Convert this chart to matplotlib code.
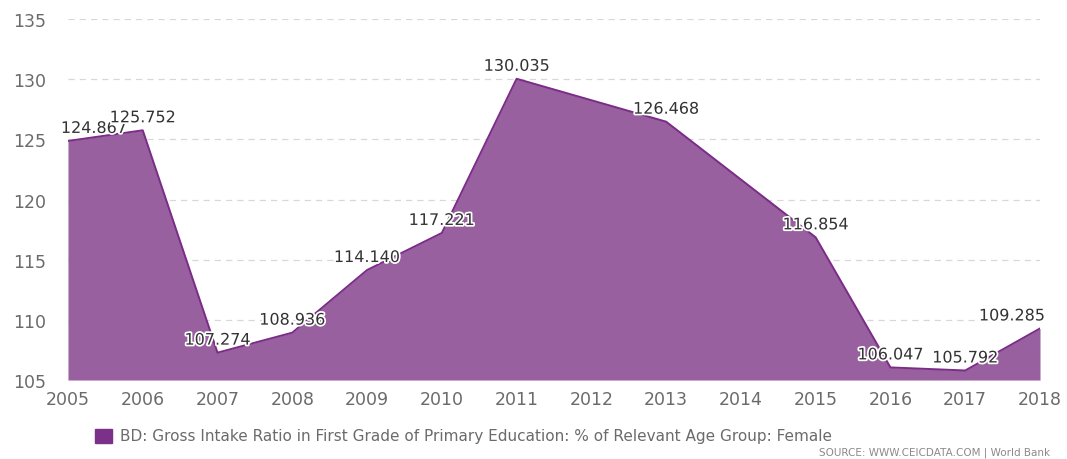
import matplotlib
matplotlib.use("Agg")
import matplotlib.pyplot as plt
from matplotlib.patches import Rectangle
import matplotlib.patheffects as pe

# data (2012 and 2014 have no value, the line just joins across them)
years = [2005, 2006, 2007, 2008, 2009, 2010, 2011, 2013, 2015, 2016, 2017, 2018]
values = [124.867, 125.752, 107.274, 108.936, 114.140, 117.221, 130.035,
          126.468, 116.854, 106.047, 105.792, 109.285]
xticks = list(range(2005, 2019))
yticks = [105, 110, 115, 120, 125, 130, 135]

FILL = "#98609f"
LINE = "#7a2c86"
GREY = "#6b6b6b"

fig = plt.figure(figsize=(10.67, 4.6), dpi=100)
ax = fig.add_axes([0.0637, 0.1717, 0.911, 0.7848])

ax.fill_between(years, values, 105, color=FILL, lw=0, zorder=2)
ax.plot(years, values, color=LINE, lw=1.4, zorder=3)

ax.set_xlim(2005, 2018)
ax.set_ylim(105, 135)
ax.set_xticks(xticks)
ax.set_yticks(yticks)
ax.tick_params(axis="both", length=0, labelsize=12.5, colors=GREY)
ax.tick_params(axis="x", pad=7)
ax.tick_params(axis="y", pad=16)
ax.grid(axis="y", color="#d8d8d8", ls=(0, (5, 4)), lw=0.9, zorder=1)
ax.grid(axis="x", visible=False)
for s in ax.spines.values():
    s.set_visible(False)

# value labels, nudged inside the plot at the edges
halo = [pe.withStroke(linewidth=2.5, foreground="white")]
for i, (x, v) in enumerate(zip(years, values)):
    dx = 0
    if i == 0:
        dx = 26
    elif i == len(years) - 1:
        dx = -28
    ax.annotate(f"{v:.3f}", (x, v), xytext=(dx, 5), textcoords="offset pixels",
                ha="center", va="bottom", fontsize=11.5, color="#333333",
                path_effects=halo, zorder=5, annotation_clip=False)

# legend under the chart
fig.patches.append(Rectangle((95 / 1067, 1 - 444 / 460), 17 / 1067, 14 / 460,
                             transform=fig.transFigure, color="#7b3189"))
fig.text(120 / 1067, 1 - 437 / 460,
         "BD: Gross Intake Ratio in First Grade of Primary Education: % of Relevant Age Group: Female",
         fontsize=11, color=GREY, va="center", ha="left")
fig.text(1050 / 1067, 1 - 453 / 460, "SOURCE: WWW.CEICDATA.COM | World Bank",
         fontsize=7.5, color="#8a8a8a", va="center", ha="right")

fig.savefig("out.png", dpi=100)
